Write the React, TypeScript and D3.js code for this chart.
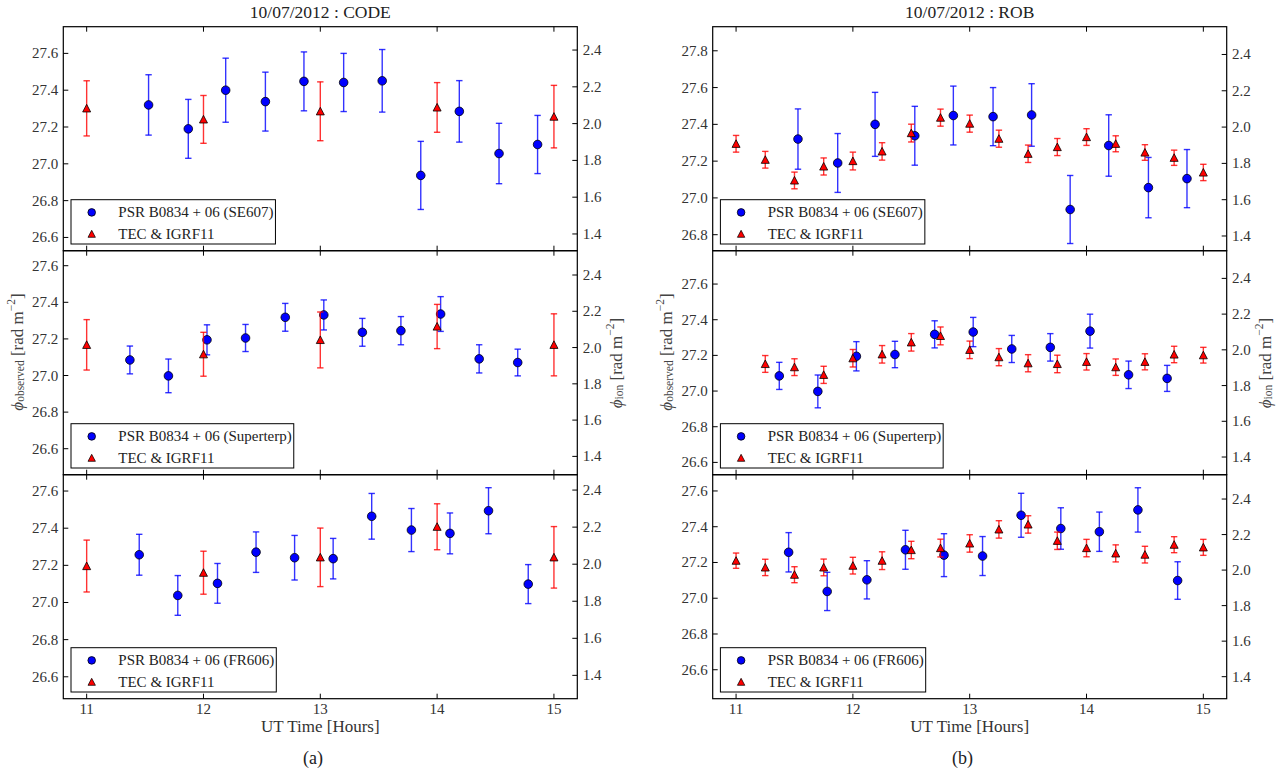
import React from 'react';
import * as d3 from 'd3';

// UT hour ticks shared by every panel
const HOUR_TICKS = [11, 12, 13, 14, 15];
const HOUR_DOMAIN: [number, number] = [10.8, 15.2];

// Observed rotation measure per station (phi_observed, rad m^-2)
const SE607_HOURS = [11.53, 11.87, 12.19, 12.53, 12.86, 13.2, 13.53, 13.86, 14.19, 14.53, 14.86];
const SE607_PHI = [27.32, 27.19, 27.4, 27.338, 27.448, 27.442, 27.451, 26.937, 27.285, 27.056, 27.105];
const SE607_ERR = [0.164, 0.16, 0.174, 0.16, 0.16, 0.158, 0.17, 0.185, 0.167, 0.164, 0.158];

const SUPERTERP_HOURS = [11.37, 11.7, 12.03, 12.36, 12.7, 13.03, 13.36, 13.69, 14.03, 14.36, 14.69];
const SUPERTERP_PHI = [27.085, 26.998, 27.195, 27.205, 27.318, 27.331, 27.236, 27.245, 27.336, 27.091, 27.071];
const SUPERTERP_ERR = [0.076, 0.092, 0.082, 0.074, 0.076, 0.082, 0.076, 0.077, 0.095, 0.077, 0.073];

const FR606_HOURS = [11.45, 11.78, 12.12, 12.45, 12.78, 13.11, 13.44, 13.78, 14.11, 14.44, 14.78];
const FR606_PHI = [27.257, 27.038, 27.103, 27.271, 27.241, 27.236, 27.464, 27.39, 27.372, 27.494, 27.099];
const FR606_ERR = [0.11, 0.107, 0.107, 0.109, 0.12, 0.109, 0.123, 0.116, 0.11, 0.124, 0.105];

// Ionospheric RM from TEC & IGRF11 (phi_ion, rad m^-2), CODE maps
const CODE_HOURS = [11, 12, 13, 14, 15];
const CODE_SE607_ION = [2.083, 2.023, 2.067, 2.088, 2.038];
const CODE_SE607_ERR = [0.15, 0.13, 0.16, 0.135, 0.17];
const CODE_SUPERTERP_ION = [2.015, 1.963, 2.042, 2.116, 2.015];
const CODE_SUPERTERP_ERR = [0.139, 0.121, 0.154, 0.122, 0.171];
const CODE_FR606_ION = [1.99, 1.954, 2.037, 2.202, 2.037];
const CODE_FR606_ERR = [0.14, 0.116, 0.158, 0.124, 0.166];

// ROB maps, every 15 minutes
const ROB_HOURS = [11, 11.25, 11.5, 11.75, 12, 12.25, 12.5, 12.75, 13, 13.25, 13.5, 13.75, 14, 14.25, 14.5, 14.75, 15];
const ROB_SE607_ION = [1.908, 1.82, 1.706, 1.783, 1.813, 1.866, 1.967, 2.052, 2.019, 1.936, 1.853, 1.89, 1.945, 1.908, 1.86, 1.831, 1.75];
const ROB_SE607_ERR = [0.046, 0.046, 0.046, 0.047, 0.049, 0.048, 0.049, 0.047, 0.047, 0.047, 0.048, 0.047, 0.046, 0.044, 0.043, 0.042, 0.045];
const ROB_SUPERTERP_HOURS = [11.25, 11.5, 11.75, 12, 12.25, 12.5, 12.75, 13, 13.25, 13.5, 13.75, 14, 14.25, 14.5, 14.75, 15];
const ROB_SUPERTERP_ION = [1.921, 1.903, 1.86, 1.953, 1.975, 2.042, 2.078, 2.0, 1.959, 1.925, 1.921, 1.933, 1.903, 1.933, 1.974, 1.97];
const ROB_SUPERTERP_ERR = [0.047, 0.047, 0.048, 0.049, 0.049, 0.049, 0.05, 0.049, 0.048, 0.048, 0.049, 0.046, 0.046, 0.045, 0.046, 0.044];
const ROB_FR606_ION = [2.053, 2.015, 1.974, 2.015, 2.025, 2.053, 2.113, 2.124, 2.15, 2.229, 2.257, 2.165, 2.124, 2.094, 2.087, 2.143, 2.128];
const ROB_FR606_ERR = [0.043, 0.046, 0.045, 0.047, 0.047, 0.05, 0.049, 0.05, 0.049, 0.049, 0.049, 0.049, 0.049, 0.048, 0.047, 0.045, 0.045];

const TITLES = ['10/07/2012 : CODE', '10/07/2012 : ROB'];
const SUB_LABELS = ['(a)', '(b)'];
const STATIONS = ['SE607', 'Superterp', 'FR606'];

const W = 1287;
const H = 775;
const PANEL_W = 514;
const PANEL_H = 224;
const TOP = 26.7;
const COL_X = [63.3, 712.7];
const FONT = 'Liberation Serif, DejaVu Serif, serif';
const TICK_FONT = 15;
const BLUE = '#0000ff';
const RED = '#ff0000';

type Series = { hours: number[]; vals: number[]; errs: number[] };

interface PanelSpec {
  obs: Series;
  ion: Series;
  left: [number, number];
  right: [number, number];
  station: string;
}

const obsSeries: Series[] = [
  { hours: SE607_HOURS, vals: SE607_PHI, errs: SE607_ERR },
  { hours: SUPERTERP_HOURS, vals: SUPERTERP_PHI, errs: SUPERTERP_ERR },
  { hours: FR606_HOURS, vals: FR606_PHI, errs: FR606_ERR },
];

const columns: PanelSpec[][] = [
  [
    { obs: obsSeries[0], ion: { hours: CODE_HOURS, vals: CODE_SE607_ION, errs: CODE_SE607_ERR }, left: [26.528, 27.745], right: [1.309, 2.527], station: STATIONS[0] },
    { obs: obsSeries[1], ion: { hours: CODE_HOURS, vals: CODE_SUPERTERP_ION, errs: CODE_SUPERTERP_ERR }, left: [26.458, 27.682], right: [1.299, 2.534], station: STATIONS[1] },
    { obs: obsSeries[2], ion: { hours: CODE_HOURS, vals: CODE_FR606_ION, errs: CODE_FR606_ERR }, left: [26.482, 27.688], right: [1.274, 2.483], station: STATIONS[2] },
  ],
  [
    { obs: obsSeries[0], ion: { hours: ROB_HOURS, vals: ROB_SE607_ION, errs: ROB_SE607_ERR }, left: [26.713, 27.931], right: [1.319, 2.553], station: STATIONS[0] },
    { obs: obsSeries[1], ion: { hours: ROB_SUPERTERP_HOURS, vals: ROB_SUPERTERP_ION, errs: ROB_SUPERTERP_ERR }, left: [26.531, 27.787], right: [1.301, 2.555], station: STATIONS[1] },
    { obs: obsSeries[2], ion: { hours: ROB_HOURS, vals: ROB_FR606_ION, errs: ROB_FR606_ERR }, left: [26.438, 27.691], right: [1.276, 2.537], station: STATIONS[2] },
  ],
];

let measureCtx: CanvasRenderingContext2D | null = null;
function textWidth(s: string, size: number) {
  if (!measureCtx) measureCtx = document.createElement('canvas').getContext('2d');
  if (!measureCtx) return s.length * size * 0.48;
  measureCtx.font = `${size}px "Liberation Serif", serif`;
  return measureCtx.measureText(s).width;
}

const fmt = d3.format('.1f');
const TRI = 'M0,-4L4,3.6L-4,3.6Z';

function ErrorSeries({ s, x, y, color, marker }: { s: Series; x: any; y: any; color: string; marker: 'o' | '^' }) {
  return (
    <g>
      {s.hours.map((h, i) => {
        const cx = x(h);
        const lo = y(s.vals[i] - s.errs[i]);
        const hi = y(s.vals[i] + s.errs[i]);
        return (
          <g key={'e' + i} stroke={color} strokeWidth={1.4} strokeOpacity={0.8}>
            <line x1={cx} x2={cx} y1={lo} y2={hi} />
            <line x1={cx - 3.2} x2={cx + 3.2} y1={lo} y2={lo} />
            <line x1={cx - 3.2} x2={cx + 3.2} y1={hi} y2={hi} />
          </g>
        );
      })}
      {s.hours.map((h, i) =>
        marker === 'o' ? (
          <circle key={'m' + i} cx={x(h)} cy={y(s.vals[i])} r={4.3} fill={color} stroke="#000" strokeWidth={0.8} />
        ) : (
          <path key={'m' + i} d={TRI} transform={`translate(${x(h)},${y(s.vals[i])})`} fill={color} stroke="#000" strokeWidth={0.8} />
        )
      )}
    </g>
  );
}

function Panel({ spec, x0, y0, bottom }: { spec: PanelSpec; x0: number; y0: number; bottom: boolean }) {
  const x = d3.scaleLinear().domain(HOUR_DOMAIN).range([x0, x0 + PANEL_W]);
  const yL = d3.scaleLinear().domain(spec.left).range([y0 + PANEL_H, y0]);
  const yR = d3.scaleLinear().domain(spec.right).range([y0 + PANEL_H, y0]);
  const x1 = x0 + PANEL_W;
  const y1 = y0 + PANEL_H;
  const TL = 5;

  const label = `PSR B0834 + 06 (${spec.station})`;
  const lw = 47.3 + textWidth(label, TICK_FONT) + 2;
  const lx = x0 + 7.7;
  const lh = 44.3;
  const ly = y1 - 6.7 - lh;

  return (
    <g>
      <ErrorSeries s={spec.obs} x={x} y={yL} color={BLUE} marker="o" />
      <ErrorSeries s={spec.ion} x={x} y={yR} color={RED} marker="^" />

      {/* ticks, pointing inward on every side */}
      <g stroke="#000" strokeWidth={1}>
        {HOUR_TICKS.map((t) => (
          <g key={'x' + t}>
            <line x1={x(t)} x2={x(t)} y1={y1} y2={y1 - TL} />
            <line x1={x(t)} x2={x(t)} y1={y0} y2={y0 + TL} />
          </g>
        ))}
        {yL.ticks(6).map((t) => (
          <line key={'l' + t} x1={x0} x2={x0 + TL} y1={yL(t)} y2={yL(t)} />
        ))}
        {yR.ticks(6).map((t) => (
          <line key={'r' + t} x1={x1} x2={x1 - TL} y1={yR(t)} y2={yR(t)} />
        ))}
      </g>
      <g style={{ fontFamily: FONT }} fontSize={TICK_FONT} fill="#333">
        {yL.ticks(6).map((t) => (
          <text key={'lt' + t} x={x0 - 5} y={yL(t)} textAnchor="end" dominantBaseline="central">{fmt(t)}</text>
        ))}
        {yR.ticks(6).map((t) => (
          <text key={'rt' + t} x={x1 + 5.4} y={yR(t)} textAnchor="start" dominantBaseline="central">{fmt(t)}</text>
        ))}
        {bottom &&
          HOUR_TICKS.map((t) => (
            <text key={'xt' + t} x={x(t)} y={y1 + 15.5} textAnchor="middle">{t}</text>
          ))}
      </g>

      {/* legend */}
      <g>
        <rect x={lx} y={ly} width={lw} height={lh} fill="#fff" stroke="#000" strokeWidth={1} />
        <circle cx={lx + 20.7} cy={ly + 12.7} r={3.8} fill={BLUE} stroke="#000" strokeWidth={0.8} />
        <path d={TRI} transform={`translate(${lx + 20.7},${ly + 34.3}) scale(0.92)`} fill={RED} stroke="#000" strokeWidth={0.8} />
        <g style={{ fontFamily: FONT }} fontSize={TICK_FONT} fill="#222">
          <text x={lx + 47.3} y={ly + 12.7} dominantBaseline="central">{label}</text>
          <text x={lx + 47.3} y={ly + 34.3} dominantBaseline="central">TEC &amp; IGRF11</text>
        </g>
      </g>

      <rect x={x0} y={y0} width={PANEL_W} height={PANEL_H} fill="none" stroke="#000" strokeWidth={1.2} />
    </g>
  );
}

function PhiLabel({ cx, cy, sub }: { cx: number; cy: number; sub: string }) {
  return (
    <text transform={`translate(${cx},${cy}) rotate(-90)`} textAnchor="middle" dominantBaseline="central" style={{ fontFamily: FONT }} fontSize={17} fill="#444">
      <tspan fontStyle="italic">ϕ</tspan>
      <tspan fontSize={11.5} dy={3}>{sub}</tspan>
      <tspan dy={-3}> [rad m</tspan>
      <tspan fontSize={11.5} dy={-6}>−2</tspan>
      <tspan dy={6}>]</tspan>
    </text>
  );
}

export default function App() {
  return (
    <div style={{ position: 'absolute', left: 0, top: 0, background: '#fff' }}>
      <svg width={W} height={H} viewBox={`0 0 ${W} ${H}`} style={{ display: 'block', background: '#fff' }}>
        {columns.map((col, ci) => {
          const x0 = COL_X[ci];
          return (
            <g key={ci}>
              <text x={x0 + PANEL_W / 2} y={18} textAnchor="middle" style={{ fontFamily: FONT }} fontSize={17.5} fill="#222">
                {TITLES[ci]}
              </text>
              {col.map((spec, ri) => (
                <Panel key={ri} spec={spec} x0={x0} y0={TOP + ri * PANEL_H} bottom={ri === 2} />
              ))}
              <PhiLabel cx={x0 - 46.5} cy={352} sub="observed" />
              <PhiLabel cx={x0 + PANEL_W + 38.7} cy={363} sub="ion" />
              <text x={x0 + PANEL_W / 2} y={731.5} textAnchor="middle" style={{ fontFamily: FONT }} fontSize={17} fill="#333">
                UT Time [Hours]
              </text>
              <text x={x0 + 249.7} y={764} textAnchor="middle" style={{ fontFamily: FONT }} fontSize={18} fill="#222">
                {SUB_LABELS[ci]}
              </text>
            </g>
          );
        })}
      </svg>
    </div>
  );
}
